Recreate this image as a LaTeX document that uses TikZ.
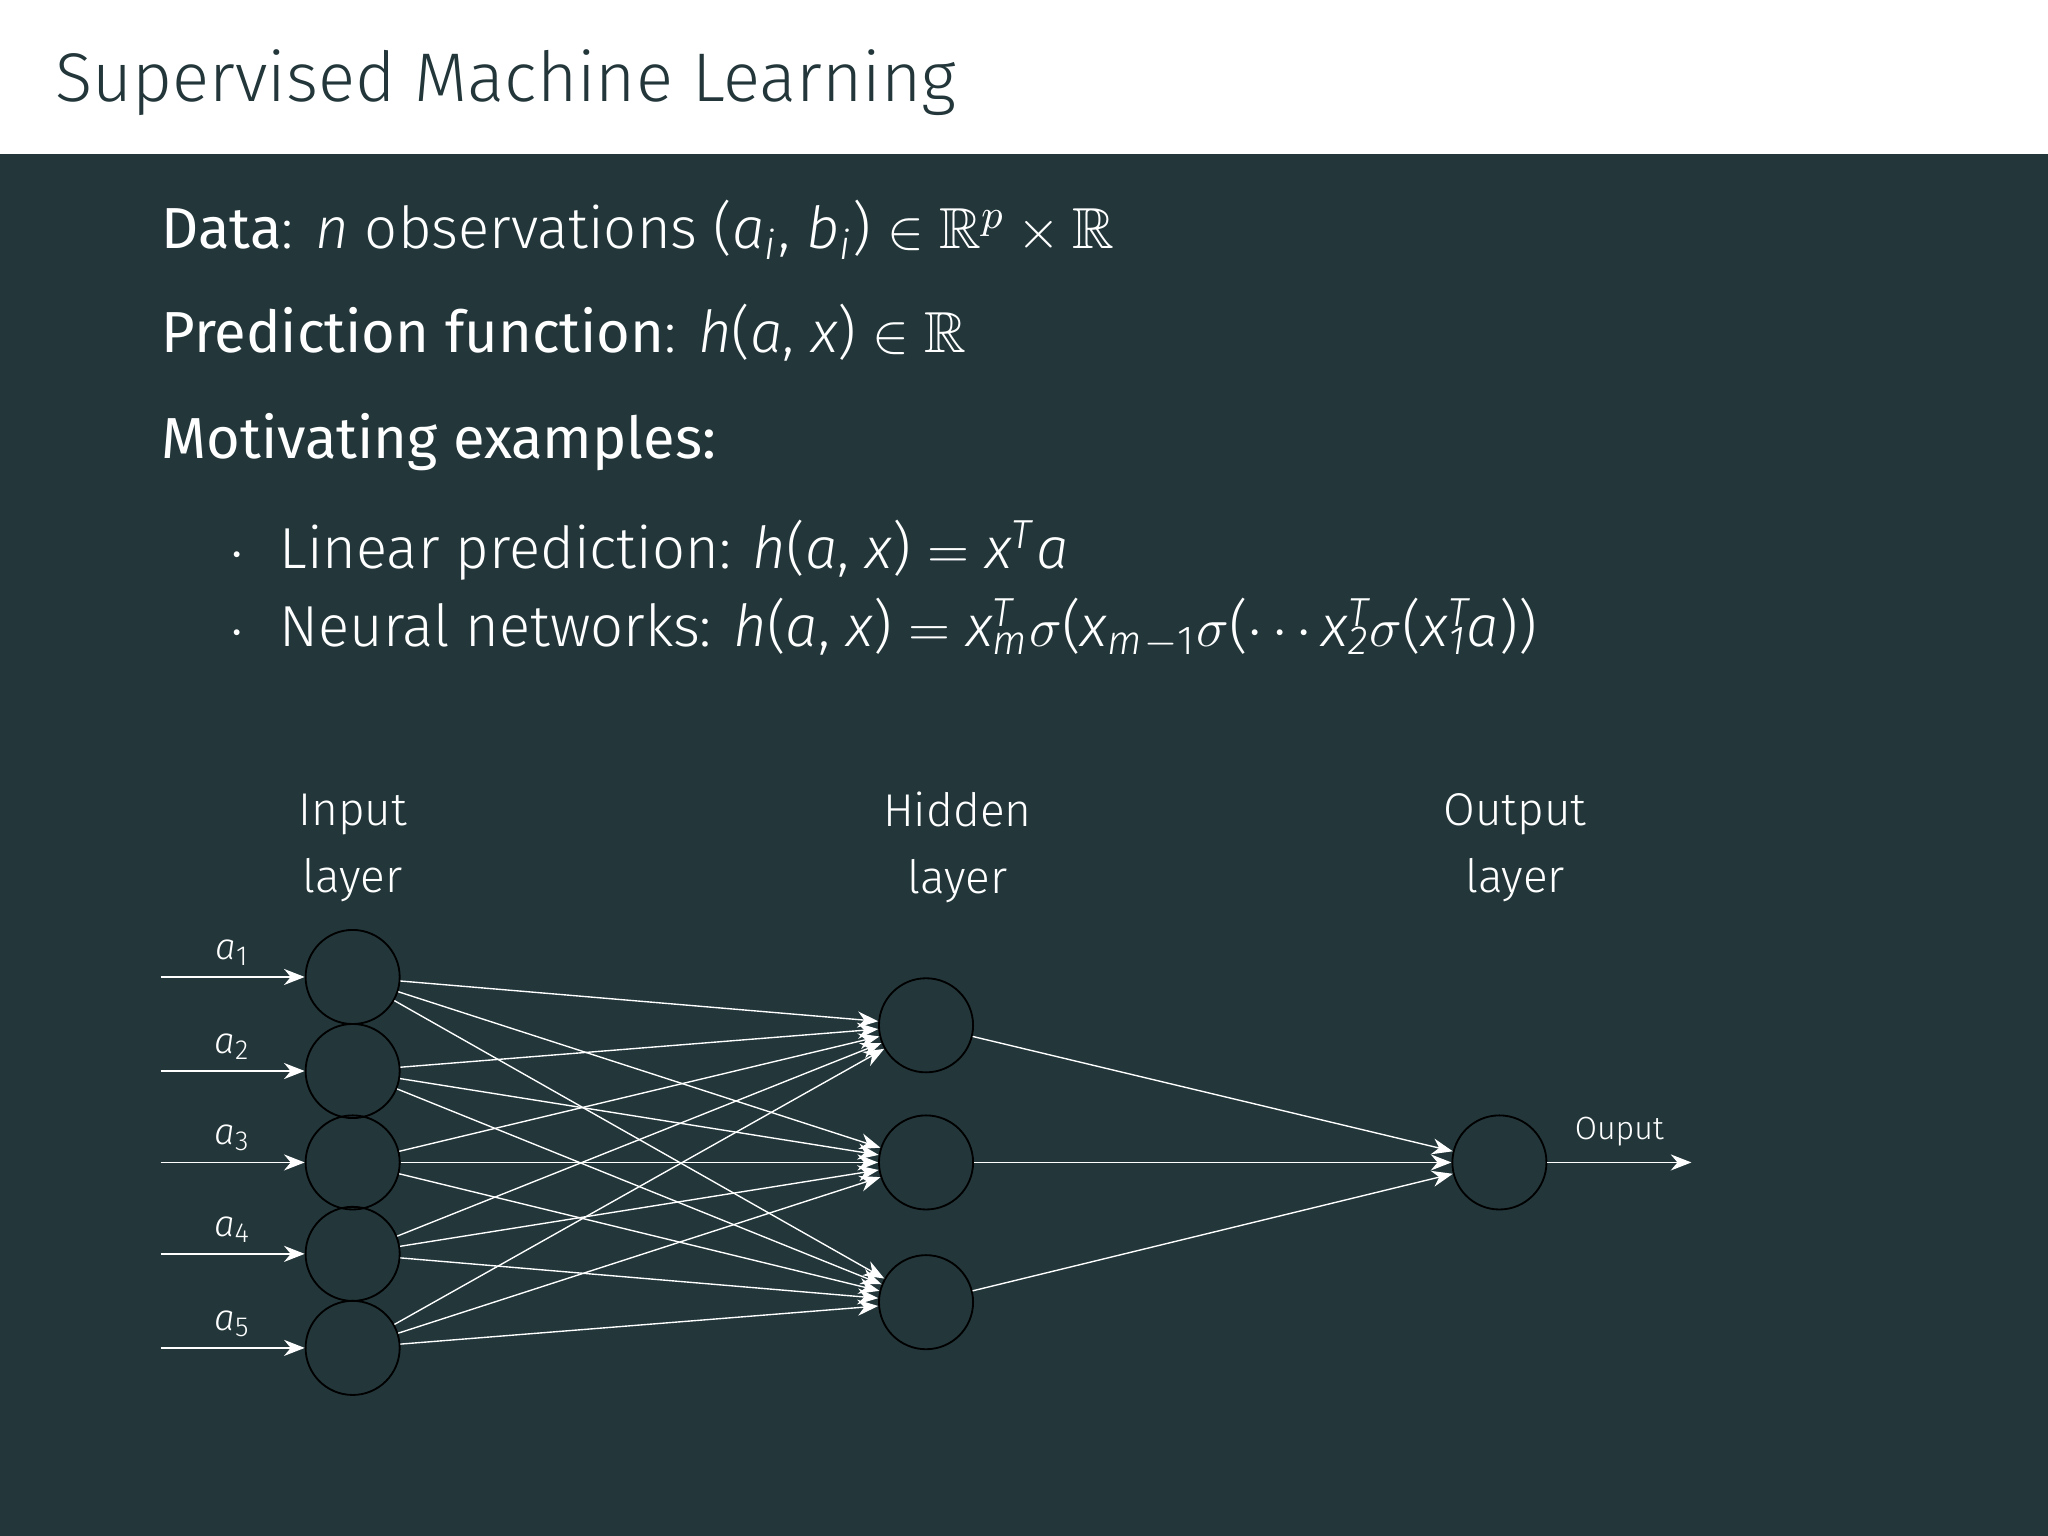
\documentclass[tikz,border=0pt]{standalone}
\usepackage{fontspec}
\usepackage{amssymb}
\setmainfont{Fira Sans}[UprightFont=* Light,ItalicFont=* Light Italic,BoldFont=*]
\usetikzlibrary{arrows.meta}
\definecolor{bg}{HTML}{23373B}
\newcommand{\vi}[1]{\textit{#1}}
\newcommand{\vsub}[1]{\textsubscript{\textit{#1}}}
\newcommand{\vsup}[1]{\textsuperscript{\textit{#1}}}
\newcommand{\vsupsub}[2]{\rlap{\textsuperscript{\textit{#1}}}\textsubscript{\textit{#2}}}
\begin{document}
\begin{tikzpicture}[x=0.01cm,y=-0.01cm,
  neuron/.style={circle,draw=black,minimum size=0.72cm,inner sep=0pt},
  conn/.style={white,line width=0.3pt,-{Stealth[length=4.5pt,width=3.5pt]}},
  txt/.style={white,anchor=base west,inner sep=0pt,font=\fontsize{12.6}{15}\selectfont},
  lay/.style={white,align=center,font=\fontsize{10}{14.5}\selectfont}]
\useasboundingbox (0,0) rectangle (1568,1176);
\fill[white] (0,0) rectangle (1568,118);
\fill[bg] (0,118) rectangle (1568,1176);
\node[anchor=base west,inner sep=0pt,text=bg,font=\fontsize{15}{18}\selectfont] (title) at (42,78) {Supervised Machine Learning};
\node[txt] (l1) at (123,190) {\textbf{Data}: \vi{n} observations (\vi{a}\vsub{i}, \vi{b}\vsub{i}) $\in\mathbb{R}^p\times\mathbb{R}$};
\node[txt] (l2) at (123,270) {\textbf{Prediction function}: \vi{h}(\vi{a}, \vi{x}) $\in\mathbb{R}$};
\node[txt] (l3) at (123,351) {\textbf{Motivating examples:}};
\node[txt] (b1) at (175,435) {$\cdot$\hspace{0.6em}Linear prediction: \vi{h}(\vi{a}, \vi{x}) $=$ \vi{x}\vsup{T}\vi{a}};
\node[txt] (b2) at (175,495) {$\cdot$\hspace{0.6em}Neural networks: \vi{h}(\vi{a}, \vi{x}) $=$ \vi{x}\vsupsub{T}{m}$\sigma$(\vi{x}\vsub{m}\textsubscript{$-$1}$\sigma$($\cdots$\,\vi{x}\vsupsub{T}{2}$\sigma$(\vi{x}\vsupsub{T}{1}\vi{a}))};
\node[lay] (L1) at (270,649) {Input\\layer};
\node[lay] (L2) at (733,649) {Hidden\\layer};
\node[lay] (L3) at (1160,649) {Output\\layer};
\foreach \i/\y in {1/748,2/820,3/890,4/960,5/1032}{
  \node[neuron] (I\i) at (270,\y) {};
  \coordinate (S\i) at (123,\y);
  \draw[conn] (S\i) -- (I\i) node[pos=0.5,above=-1pt,white,font=\footnotesize] {\vi{a}\textsubscript{\i}};
}
\foreach \j/\y in {1/785,2/890,3/997}{
  \node[neuron] (H\j) at (709,\y) {};
  \foreach \i in {1,...,5} \draw[conn] (I\i) -- (H\j);
}
\node[neuron] (O) at (1148,890) {};
\foreach \j in {1,2,3} \draw[conn] (H\j) -- (O);
\coordinate (E) at (1295,890);
\draw[conn] (O) -- (E) node[pos=0.5,above=0pt,white,font=\scriptsize] {Ouput};
\end{tikzpicture}
\end{document}
